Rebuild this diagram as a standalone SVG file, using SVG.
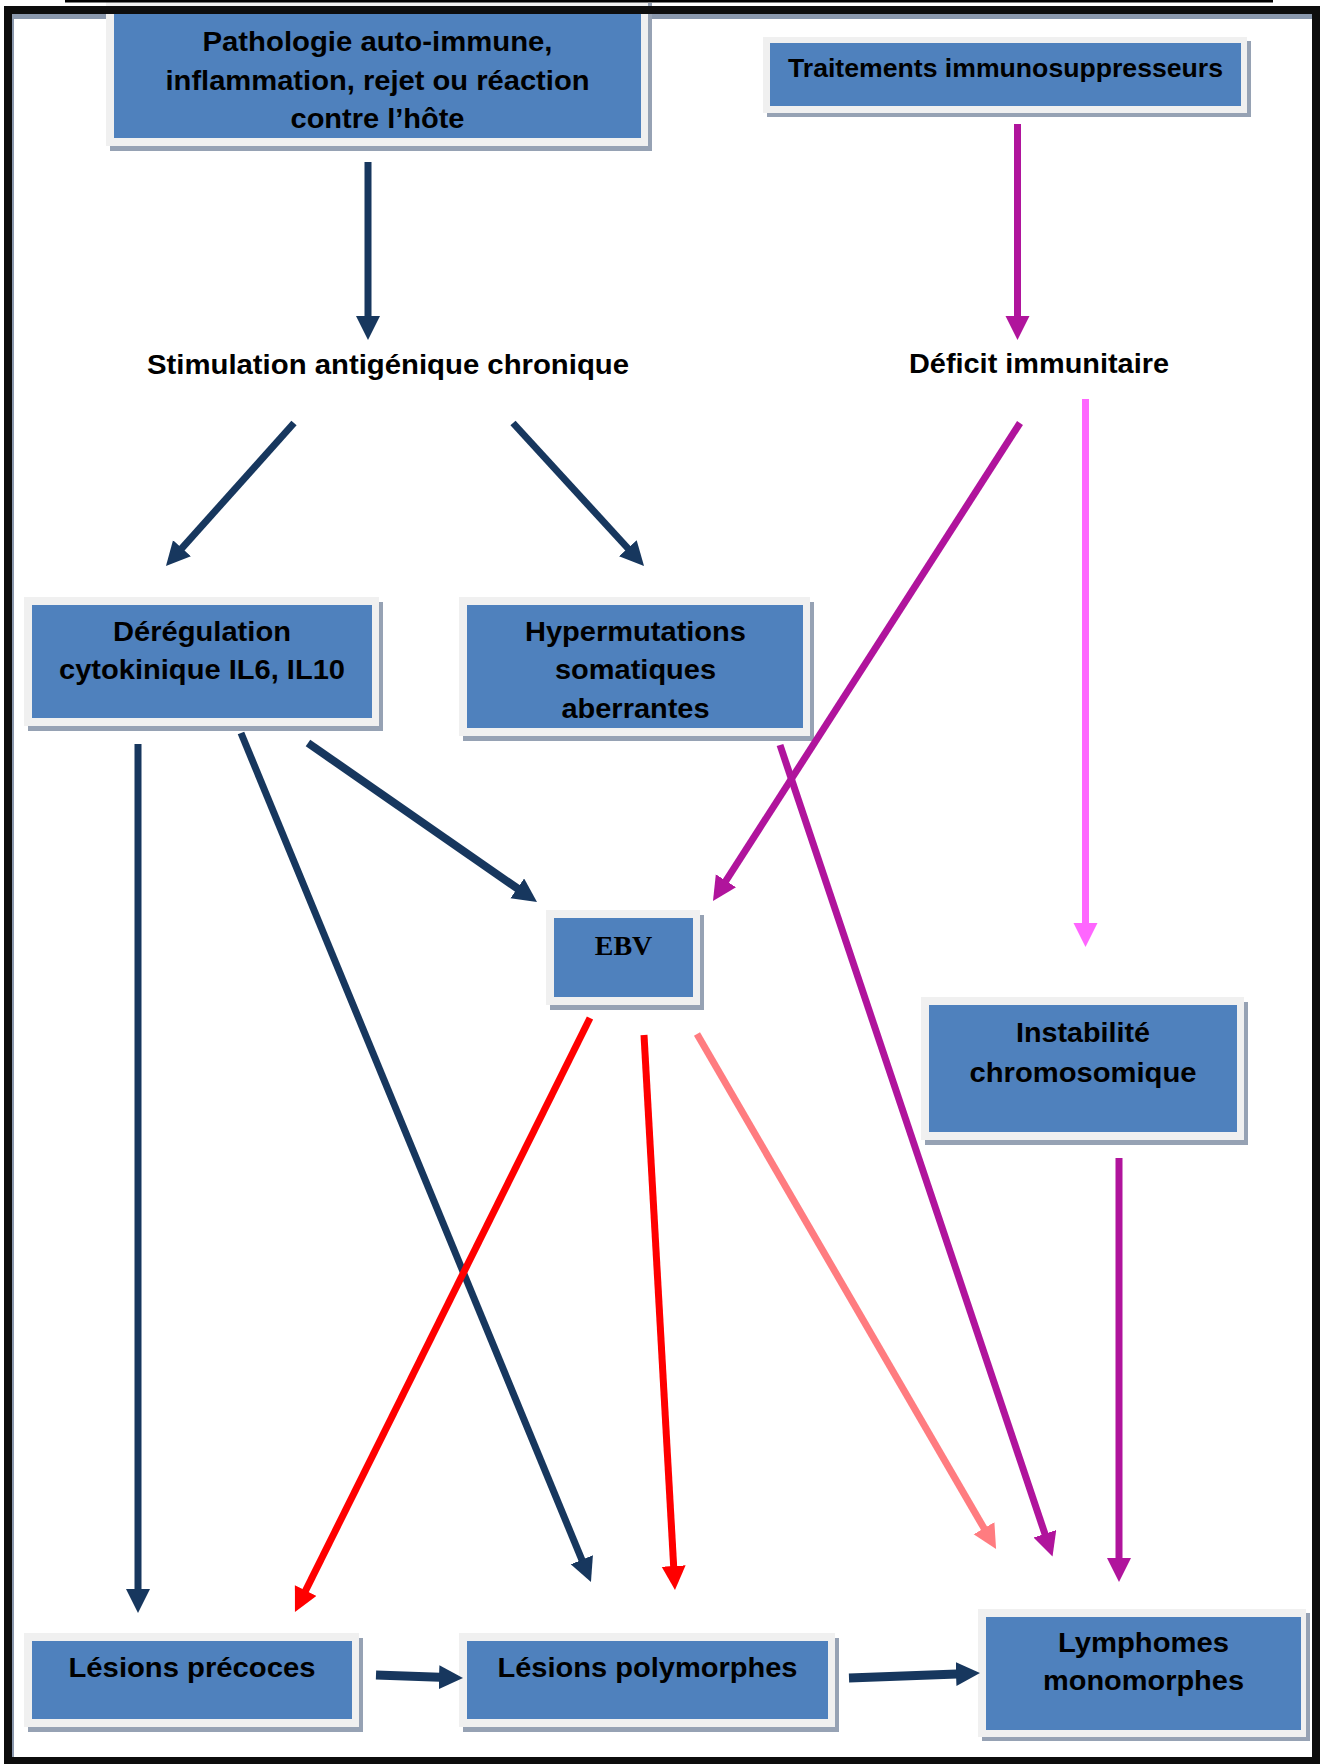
<svg xmlns="http://www.w3.org/2000/svg" width="1324" height="1764" viewBox="0 0 1324 1764">
<style>
.sh{fill:#96a2b4}
.lt{fill:#f0f0f0}
.bl{fill:#4f81bd}
.t{font-family:"Liberation Sans",Arial,sans-serif;font-weight:bold;font-size:27px;fill:#000;text-anchor:middle}
.ts{font-family:"Liberation Serif","Times New Roman",serif;font-weight:bold;font-size:28px;fill:#000;text-anchor:middle}
.c{fill:none;stroke-width:7;stroke-linecap:butt}
.nv{stroke:#17375e}
.mg{stroke:#b0149c}
.pk{stroke:#ff66ff}
.rd{stroke:#ff0000}
.sm{stroke:#ff7c80}
</style>
<defs>
<marker id="hNv" markerUnits="userSpaceOnUse" markerWidth="26" markerHeight="26" refX="1" refY="12" orient="auto"><path d="M0,0 L24,12 L0,24 z" fill="#17375e"/></marker>
<marker id="hMg" markerUnits="userSpaceOnUse" markerWidth="26" markerHeight="26" refX="1" refY="12" orient="auto"><path d="M0,0 L24,12 L0,24 z" fill="#b0149c"/></marker>
<marker id="hPk" markerUnits="userSpaceOnUse" markerWidth="26" markerHeight="26" refX="1" refY="12" orient="auto"><path d="M0,0 L24,12 L0,24 z" fill="#ff66ff"/></marker>
<marker id="hRd" markerUnits="userSpaceOnUse" markerWidth="26" markerHeight="26" refX="1" refY="12" orient="auto"><path d="M0,0 L24,12 L0,24 z" fill="#ff0000"/></marker>
<marker id="hSm" markerUnits="userSpaceOnUse" markerWidth="26" markerHeight="26" refX="1" refY="12" orient="auto"><path d="M0,0 L24,12 L0,24 z" fill="#ff7c80"/></marker>
</defs>
<rect x="0" y="0" width="1324" height="1764" fill="#ffffff"/>
<!-- frame inner shadow -->
<rect x="12" y="14" width="1300" height="5" fill="#8a98ad"/>
<rect x="12" y="14" width="2" height="1743" fill="#8a98ad"/>

<g id="node-pathologie">
<rect class="sh" x="110" y="3" width="542" height="148"/>
<rect class="lt" x="106" y="-2" width="542" height="148"/>
<rect class="bl" x="114" y="6" width="527" height="132"/>
<text class="t" x="377.5" y="51" textLength="350" lengthAdjust="spacingAndGlyphs">Pathologie auto-immune,</text>
<text class="t" x="377.5" y="89.5" textLength="424" lengthAdjust="spacingAndGlyphs">inflammation, rejet ou réaction</text>
<text class="t" x="377.5" y="128" textLength="174" lengthAdjust="spacingAndGlyphs">contre l’hôte</text>
</g>

<g id="node-traitements">
<rect class="sh" x="767" y="41" width="484" height="76"/>
<rect class="lt" x="763" y="37" width="484" height="76"/>
<rect class="bl" x="770" y="43" width="471" height="63"/>
<text class="t" x="1005.5" y="77.3" style="font-size:25px" textLength="435" lengthAdjust="spacingAndGlyphs">Traitements immunosuppresseurs</text>
</g>

<g id="node-stimulation">
<text class="t" x="388" y="374" textLength="482" lengthAdjust="spacingAndGlyphs">Stimulation antigénique chronique</text>
</g>

<g id="node-deficit">
<text class="t" x="1039" y="373.3" textLength="260" lengthAdjust="spacingAndGlyphs">Déficit immunitaire</text>
</g>

<g id="node-deregulation">
<rect class="sh" x="28" y="602" width="355" height="129"/>
<rect class="lt" x="24" y="597" width="355" height="129"/>
<rect class="bl" x="32" y="605" width="340" height="113"/>
<text class="t" x="202" y="641" textLength="178" lengthAdjust="spacingAndGlyphs">Dérégulation</text>
<text class="t" x="202" y="679.3" textLength="286" lengthAdjust="spacingAndGlyphs">cytokinique IL6, IL10</text>
</g>

<g id="node-hypermutations">
<rect class="sh" x="463" y="602" width="351" height="139"/>
<rect class="lt" x="459" y="597" width="351" height="139"/>
<rect class="bl" x="467" y="605" width="336" height="123"/>
<text class="t" x="635.5" y="641" textLength="221" lengthAdjust="spacingAndGlyphs">Hypermutations</text>
<text class="t" x="635.5" y="679.3" textLength="161" lengthAdjust="spacingAndGlyphs">somatiques</text>
<text class="t" x="635.5" y="717.7" textLength="148" lengthAdjust="spacingAndGlyphs">aberrantes</text>
</g>

<g id="node-ebv">
<rect class="sh" x="550" y="915" width="154" height="95"/>
<rect class="lt" x="546" y="910" width="154" height="95"/>
<rect class="bl" x="554" y="918" width="139" height="79"/>
<text class="ts" x="623.5" y="955">EBV</text>
</g>

<g id="node-instabilite">
<rect class="sh" x="925" y="1002" width="323" height="143"/>
<rect class="lt" x="921" y="997" width="323" height="143"/>
<rect class="bl" x="929" y="1005" width="308" height="127"/>
<text class="t" x="1083" y="1041.7" textLength="134" lengthAdjust="spacingAndGlyphs">Instabilité</text>
<text class="t" x="1083" y="1081.7" textLength="227" lengthAdjust="spacingAndGlyphs">chromosomique</text>
</g>

<g id="node-lesions-precoces">
<rect class="sh" x="28" y="1638" width="335" height="94"/>
<rect class="lt" x="24" y="1633" width="335" height="94"/>
<rect class="bl" x="32" y="1641" width="320" height="78"/>
<text class="t" x="192" y="1676.7" textLength="247" lengthAdjust="spacingAndGlyphs">Lésions précoces</text>
</g>

<g id="node-lesions-polymorphes">
<rect class="sh" x="463" y="1638" width="376" height="94"/>
<rect class="lt" x="459" y="1633" width="376" height="94"/>
<rect class="bl" x="467" y="1641" width="361" height="78"/>
<text class="t" x="647.5" y="1676.7" textLength="300" lengthAdjust="spacingAndGlyphs">Lésions polymorphes</text>
</g>

<g id="node-lymphomes">
<rect class="sh" x="982" y="1613" width="328" height="128"/>
<rect class="lt" x="978" y="1609" width="328" height="128"/>
<rect class="bl" x="986" y="1617" width="315" height="113"/>
<text class="t" x="1143.5" y="1651.7" textLength="171" lengthAdjust="spacingAndGlyphs">Lymphomes</text>
<text class="t" x="1143.5" y="1690" textLength="201" lengthAdjust="spacingAndGlyphs">monomorphes</text>
</g>

<g id="connectors">
<line class="c nv" x1="368" y1="162" x2="368" y2="317" marker-end="url(#hNv)"/>
<line class="c nv" x1="294" y1="423" x2="181.3" y2="548.9" marker-end="url(#hNv)"/>
<line class="c nv" x1="513" y1="423" x2="628.5" y2="549" marker-end="url(#hNv)"/>
<line class="c nv" x1="138" y1="744" x2="138" y2="1590" marker-end="url(#hNv)"/>
<line class="c nv" x1="241" y1="733" x2="582.2" y2="1560.7" marker-end="url(#hNv)"/>
<line class="c nv" x1="308" y1="743" x2="518.1" y2="888.9" marker-end="url(#hNv)" style="stroke-width:8"/>
<line class="c nv" x1="376" y1="1675" x2="440" y2="1677.2" marker-end="url(#hNv)" style="stroke-width:9"/>
<line class="c nv" x1="849" y1="1678" x2="957" y2="1673.9" marker-end="url(#hNv)" style="stroke-width:9"/>
<line class="c mg" x1="1017.5" y1="124" x2="1017.5" y2="317" marker-end="url(#hMg)"/>
<line class="c mg" x1="1020" y1="423" x2="725.4" y2="881.6" marker-end="url(#hMg)"/>
<line class="c mg" x1="780" y1="745" x2="1045.2" y2="1534.7" marker-end="url(#hMg)"/>
<line class="c mg" x1="1119" y1="1158" x2="1119" y2="1559" marker-end="url(#hMg)"/>
<line class="c pk" x1="1085.5" y1="399" x2="1085.5" y2="924" marker-end="url(#hPk)"/>
<line class="c rd" x1="590" y1="1018" x2="305.2" y2="1591.4" marker-end="url(#hRd)"/>
<line class="c rd" x1="644" y1="1035" x2="673.7" y2="1567" marker-end="url(#hRd)"/>
<line class="c sm" x1="697" y1="1034" x2="984.5" y2="1529.1" marker-end="url(#hSm)"/>
</g>

<rect x="65" y="0" width="1208" height="2.5" fill="#000"/>
<rect x="8" y="10" width="1308" height="1751" fill="none" stroke="#0d0d0d" stroke-width="8"/>
</svg>
